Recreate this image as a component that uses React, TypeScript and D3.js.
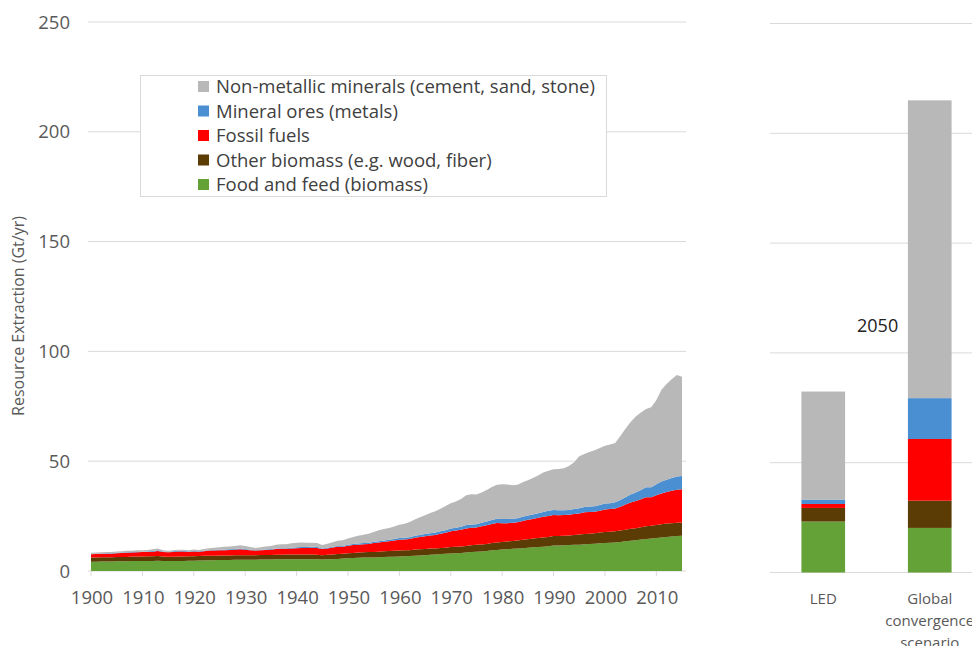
import React from "react";
import * as d3 from "d3";

const years = d3.range(1900, 2016);

// Food and feed (biomass), Gt/yr
const food = [
  4.2, 4.2, 4.3, 4.3, 4.3, 4.4, 4.4, 4.4, 4.5, 4.5,
  4.5, 4.6, 4.6, 4.7, 4.6, 4.5, 4.5, 4.6, 4.6, 4.7,
  4.7, 4.8, 4.8, 4.9, 4.9, 5.0, 5.0, 5.0, 5.1, 5.1,
  5.1, 5.1, 5.1, 5.2, 5.2, 5.2, 5.3, 5.3, 5.4, 5.4,
  5.4, 5.4, 5.4, 5.4, 5.3, 5.2, 5.3, 5.4, 5.5, 5.7,
  5.8, 5.9, 6.0, 6.1, 6.2, 6.2, 6.3, 6.4, 6.5, 6.5,
  6.6, 6.7, 6.8, 7.0, 7.1, 7.2, 7.4, 7.5, 7.7, 7.8,
  8.0, 8.1, 8.2, 8.4, 8.6, 8.8, 8.9, 9.1, 9.4, 9.6,
  9.8, 9.9, 10.1, 10.2, 10.4, 10.6, 10.8, 10.9, 11.0, 11.3,
  11.6, 11.6, 11.7, 11.8, 11.9, 12.0, 12.2, 12.3, 12.4, 12.6,
  12.8, 12.9, 13.0, 13.2, 13.5, 13.8, 14.0, 14.3, 14.6, 14.8,
  15.0, 15.3, 15.5, 15.7, 15.9, 16.0,
];

// Other biomass (e.g. wood, fiber)
const otherBiomass = [
  2.0, 2.0, 2.0, 2.0, 2.0, 2.0, 2.0, 2.0, 2.1, 2.1,
  2.1, 2.1, 2.1, 2.1, 2.0, 2.0, 2.0, 2.0, 2.0, 2.0,
  2.0, 2.0, 2.1, 2.1, 2.1, 2.1, 2.1, 2.1, 2.1, 2.1,
  2.1, 2.1, 2.1, 2.1, 2.1, 2.1, 2.1, 2.1, 2.1, 2.1,
  2.1, 2.1, 2.1, 2.1, 2.1, 2.0, 2.1, 2.1, 2.2, 2.2,
  2.3, 2.3, 2.4, 2.4, 2.4, 2.5, 2.5, 2.6, 2.6, 2.7,
  2.7, 2.7, 2.7, 2.8, 2.8, 2.8, 2.8, 2.8, 2.8, 2.8,
  2.9, 2.9, 3.0, 3.0, 3.1, 3.1, 3.2, 3.2, 3.3, 3.4,
  3.4, 3.5, 3.6, 3.7, 3.8, 3.9, 4.0, 4.1, 4.2, 4.2,
  4.3, 4.3, 4.4, 4.4, 4.5, 4.6, 4.7, 4.7, 4.8, 4.9,
  5.0, 5.0, 5.1, 5.2, 5.3, 5.4, 5.5, 5.6, 5.8, 5.8,
  6.0, 6.0, 6.1, 6.1, 6.1, 6.1,
];

// Fossil fuels
const fossil = [
  1.4, 1.5, 1.5, 1.6, 1.6, 1.7, 1.8, 1.9, 1.8, 1.9,
  2.0, 2.0, 2.1, 2.3, 2.1, 2.0, 2.2, 2.3, 2.3, 2.0,
  2.2, 2.0, 2.1, 2.3, 2.3, 2.3, 2.4, 2.5, 2.5, 2.7,
  2.5, 2.3, 2.1, 2.2, 2.3, 2.4, 2.6, 2.7, 2.6, 2.8,
  2.9, 3.0, 3.0, 3.1, 3.1, 2.8, 2.9, 3.2, 3.3, 3.1,
  3.4, 3.6, 3.6, 3.7, 3.7, 4.0, 4.2, 4.3, 4.5, 4.7,
  4.9, 4.9, 5.1, 5.3, 5.6, 5.8, 6.0, 6.1, 6.5, 6.8,
  7.2, 7.4, 7.6, 8.0, 8.0, 7.9, 8.3, 8.5, 8.7, 8.9,
  8.6, 8.4, 8.3, 8.3, 8.6, 8.8, 8.9, 9.2, 9.5, 9.6,
  9.6, 9.5, 9.4, 9.4, 9.5, 9.6, 9.8, 9.9, 9.8, 9.9,
  10.2, 10.3, 10.4, 10.9, 11.5, 12.0, 12.4, 12.8, 13.2, 13.0,
  13.5, 14.0, 14.4, 14.7, 15.0, 15.1,
];

// Mineral ores (metals)
const metals = [
  0.2, 0.2, 0.2, 0.2, 0.2, 0.2, 0.2, 0.2, 0.2, 0.2,
  0.2, 0.2, 0.3, 0.3, 0.2, 0.2, 0.3, 0.3, 0.3, 0.2,
  0.2, 0.2, 0.2, 0.2, 0.3, 0.3, 0.3, 0.3, 0.3, 0.3,
  0.3, 0.2, 0.2, 0.2, 0.2, 0.3, 0.3, 0.3, 0.3, 0.3,
  0.4, 0.4, 0.4, 0.4, 0.4, 0.3, 0.3, 0.3, 0.4, 0.4,
  0.4, 0.5, 0.5, 0.5, 0.5, 0.6, 0.6, 0.6, 0.6, 0.7,
  0.8, 0.8, 0.8, 0.9, 0.9, 1.0, 1.0, 1.1, 1.1, 1.2,
  1.3, 1.3, 1.4, 1.5, 1.5, 1.5, 1.6, 1.7, 1.8, 1.9,
  1.9, 1.9, 1.8, 1.8, 1.9, 2.0, 2.0, 2.1, 2.2, 2.3,
  2.3, 2.3, 2.2, 2.2, 2.3, 2.4, 2.4, 2.5, 2.5, 2.6,
  2.7, 2.7, 2.8, 3.0, 3.3, 3.6, 3.9, 4.2, 4.5, 4.5,
  5.0, 5.4, 5.6, 5.8, 6.0, 6.1,
];

// Non-metallic minerals (cement, sand, stone)
const nonMetallic = [
  0.5, 0.5, 0.5, 0.6, 0.6, 0.6, 0.6, 0.7, 0.6, 0.7,
  0.7, 0.7, 0.8, 0.8, 0.6, 0.5, 0.5, 0.5, 0.5, 0.6,
  0.7, 0.6, 0.8, 0.9, 1.0, 1.1, 1.2, 1.3, 1.4, 1.5,
  1.4, 1.2, 1.0, 1.1, 1.3, 1.4, 1.6, 1.8, 1.8, 2.0,
  2.1, 2.1, 2.0, 1.9, 1.8, 1.5, 1.8, 2.1, 2.4, 2.6,
  2.9, 3.2, 3.5, 3.8, 4.2, 4.5, 4.9, 5.2, 5.4, 5.7,
  6.1, 6.4, 6.9, 7.4, 8.1, 8.6, 9.2, 9.7, 10.3, 11.0,
  11.4, 12.0, 12.6, 13.6, 13.7, 13.5, 13.8, 14.4, 15.1, 15.5,
  15.8, 15.7, 15.2, 15.3, 15.7, 16.0, 16.7, 17.2, 17.9, 18.2,
  18.5, 18.7, 19.1, 20.0, 21.3, 23.7, 24.2, 24.8, 25.5, 26.0,
  26.3, 26.7, 27.0, 29.2, 31.2, 33.0, 34.5, 35.3, 35.7, 36.5,
  38.3, 41.8, 43.6, 45.0, 46.2, 45.1,
];

// 2050 scenarios
const scenarios = ["LED", "Global convergence scenario"];
const scenarioLabelLines = [["LED"], ["Global", "convergence", "scenario"]];
const scenFood = [23.2, 20.3];
const scenOther = [6.2, 12.4];
const scenFossil = [1.8, 28.1];
const scenMetals = [2.0, 18.6];
const scenNonMetallic = [49.2, 135.6];

const seriesKeys = ["food", "other", "fossil", "metals", "nonmet"];
const seriesColors = ["#64a137", "#5a3c04", "#ff0000", "#4a8fd2", "#b8b8b8"];
const legendLabels = [
  "Non-metallic minerals (cement, sand, stone)",
  "Mineral ores (metals)",
  "Fossil fuels",
  "Other biomass (e.g. wood, fiber)",
  "Food and feed (biomass)",
];
const legendColors = ["#b8b8b8", "#4a8fd2", "#ff0000", "#5a3c04", "#64a137"];

const yTicks = [0, 50, 100, 150, 200, 250];
const xTickYears = [1900, 1910, 1920, 1930, 1940, 1950, 1960, 1970, 1980, 1990, 2000, 2010];

const FONT = "'Open Sans', 'Segoe UI', sans-serif";
const GRID = "#d9d9d9";
const TEXT = "#595959";

export default function App() {
  const W = 972;
  const H = 646;

  const x = d3.scaleLinear().domain([1900, 2015]).range([91, 682]);
  const y = d3.scaleLinear().domain([0, 250]).range([571, 22]);
  const yR = d3.scaleLinear().domain([0, 250]).range([572.5, 23.5]);
  const band = d3
    .scaleBand<string>()
    .domain(scenarios)
    .range([770, 983])
    .paddingInner(0.59)
    .paddingOuter(0.295);

  const rows = years.map((yr, i) => ({
    year: yr,
    food: food[i],
    other: otherBiomass[i],
    fossil: fossil[i],
    metals: metals[i],
    nonmet: nonMetallic[i],
  }));
  const stacked = d3.stack<any>().keys(seriesKeys)(rows);
  const area = d3
    .area<any>()
    .x((d) => x(d.data.year))
    .y0((d) => y(d[0]))
    .y1((d) => y(d[1]));

  const scenRows = scenarios.map((s, i) => ({
    name: s,
    food: scenFood[i],
    other: scenOther[i],
    fossil: scenFossil[i],
    metals: scenMetals[i],
    nonmet: scenNonMetallic[i],
  }));
  const scenStacked = d3.stack<any>().keys(seriesKeys)(scenRows);

  return (
    <svg
      width={W}
      height={H}
      style={{ position: "absolute", left: 0, top: 0, background: "#fff" }}
      fontFamily={FONT}
    >
      <rect x={0} y={0} width={W} height={H} fill="#fff" />
      {/* left panel gridlines */}
      {yTicks.map((t) => (
        <line key={"g" + t} x1={88} x2={686} y1={y(t)} y2={y(t)} stroke={GRID} strokeWidth={1} />
      ))}
      {/* right panel gridlines */}
      {yTicks.map((t) => (
        <line key={"gr" + t} x1={770} x2={W} y1={yR(t)} y2={yR(t)} stroke={GRID} strokeWidth={1} />
      ))}
      {/* areas */}
      {stacked.map((s, i) => (
        <path key={s.key} d={area(s) || ""} fill={seriesColors[i]} />
      ))}
      {/* x ticks */}
      {xTickYears.map((yr) => (
        <g key={"xt" + yr}>
          <line x1={x(yr)} x2={x(yr)} y1={571} y2={576} stroke={GRID} />
          <text x={x(yr) + 1} y={604} textAnchor="middle" fontSize={18.5} fill={TEXT}>
            {yr}
          </text>
        </g>
      ))}
      {/* y tick labels */}
      {yTicks.map((t) => (
        <text key={"yt" + t} x={70} y={y(t) + 6.5} textAnchor="end" fontSize={18.5} fill={TEXT}>
          {t}
        </text>
      ))}
      <text
        transform={`translate(24,316) rotate(-90)`}
        textAnchor="middle"
        fontSize={16}
        fill={TEXT}
      >
        Resource Extraction (Gt/yr)
      </text>
      {/* legend */}
      <rect x={140.5} y={75.5} width={466} height={121} fill="#fff" stroke={GRID} strokeWidth={1} />
      {legendLabels.map((l, i) => (
        <g key={l}>
          <rect x={198} y={81 + i * 24.5} width={11} height={11} fill={legendColors[i]} />
          <text x={216} y={93 + i * 24.5} fontSize={18.5} fill="#404040">
            {l}
          </text>
        </g>
      ))}
      {/* right panel bars */}
      {scenStacked.map((s, i) =>
        s.map((d: any) => (
          <rect
            key={s.key + d.data.name}
            x={band(d.data.name)}
            width={band.bandwidth()}
            y={yR(d[1])}
            height={yR(d[0]) - yR(d[1])}
            fill={seriesColors[i]}
          />
        ))
      )}
      {scenarios.map((s, i) => (
        <text key={"cl" + s} textAnchor="middle" fontSize={15} fill={TEXT}>
          {scenarioLabelLines[i].map((ln, j) => (
            <tspan key={ln} x={(band(s) || 0) + band.bandwidth() / 2} y={604 + j * 22}>
              {ln}
            </tspan>
          ))}
        </text>
      ))}
      <text x={857} y={332} fontSize={18} fill="#222">
        2050
      </text>
    </svg>
  );
}
